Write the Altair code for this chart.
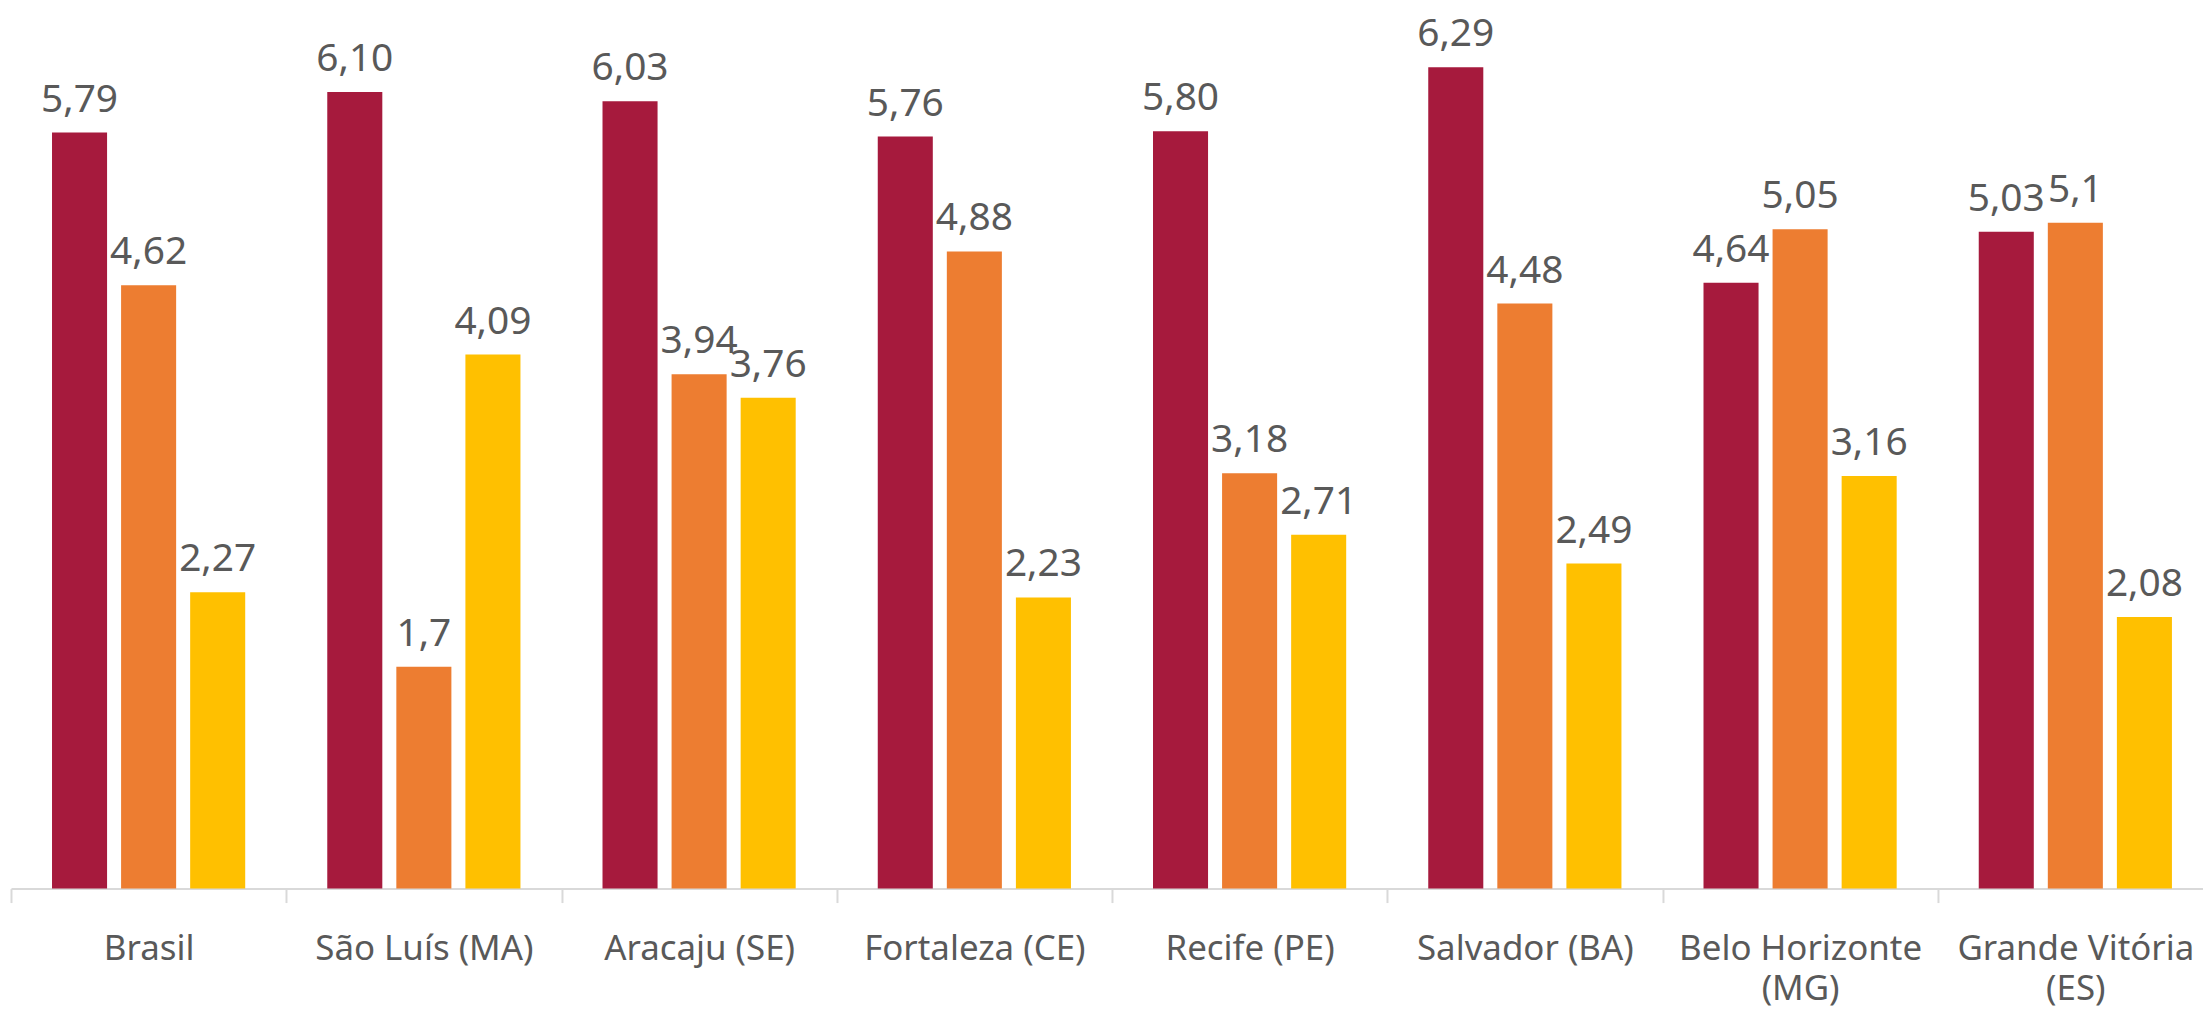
import altair as alt
import pandas as pd

categories = ["Brasil", "São Luís (MA)", "Aracaju (SE)", "Fortaleza (CE)",
              "Recife (PE)", "Salvador (BA)", "Belo Horizonte (MG)", "Grande Vitória (ES)"]
series = ["Série 1", "Série 2", "Série 3"]
values_s1 = [5.79, 6.10, 6.03, 5.76, 5.80, 6.29, 4.64, 5.03]
values_s2 = [4.62, 1.7, 3.94, 4.88, 3.18, 4.48, 5.05, 5.1]
values_s3 = [2.27, 4.09, 3.76, 2.23, 2.71, 2.49, 3.16, 2.08]
labels_s1 = ["5,79", "6,10", "6,03", "5,76", "5,80", "6,29", "4,64", "5,03"]
labels_s2 = ["4,62", "1,7", "3,94", "4,88", "3,18", "4,48", "5,05", "5,1"]
labels_s3 = ["2,27", "4,09", "3,76", "2,23", "2,71", "2,49", "3,16", "2,08"]
colors = ["#A61A3D", "#ED7D31", "#FFC000"]

rows = []
for s, vals, labs in zip(series, [values_s1, values_s2, values_s3], [labels_s1, labels_s2, labels_s3]):
    for c, v, l in zip(categories, vals, labs):
        rows.append({"cat": c, "serie": s, "valor": v, "rotulo": l})
df = pd.DataFrame(rows)

FONT = "Noto Sans"
GRAY = "#595959"

x = alt.X("cat:N", sort=categories, title=None,
          scale=alt.Scale(paddingInner=0, paddingOuter=0),
          axis=alt.Axis(labelAngle=0, tickBand="extent", domainColor="#D9D9D9", tickColor="#D9D9D9",
                        domainWidth=2, tickWidth=2, tickSize=14, labelPadding=29, labelLimit=0,
                        labelFont=FONT, labelFontSize=35, labelColor=GRAY, labelLineHeight=40,
                        labelBaseline="top",
                        labelExpr="length(datum.label) > 15 ? [slice(datum.label, 0, lastindexof(datum.label, ' ')), slice(datum.label, lastindexof(datum.label, ' ') + 1)] : datum.label"))
xo = alt.XOffset("serie:N", sort=series, scale=alt.Scale(paddingInner=0.203, paddingOuter=0.594))
y = alt.Y("valor:Q", scale=alt.Scale(domain=[0, 6.73], nice=False), axis=None)

bars = alt.Chart(df).mark_bar().encode(
    x=x, xOffset=xo, y=y,
    color=alt.Color("serie:N", sort=series, scale=alt.Scale(domain=series, range=colors), legend=None),
)
text = alt.Chart(df).mark_text(font=FONT, fontSize=39, color=GRAY, baseline="alphabetic", dy=-21).encode(
    x=x, xOffset=xo, y=y, text="rotulo:N"
)

chart = alt.layer(bars, text).properties(
    width=2210, height=882,
    autosize=alt.AutoSizeParams(type="none"),
    padding={"left": 3, "top": 0, "right": -10, "bottom": 118},
).configure_view(stroke=None)

chart.save("out.html", embed_options={"renderer": "svg", "actions": False})
